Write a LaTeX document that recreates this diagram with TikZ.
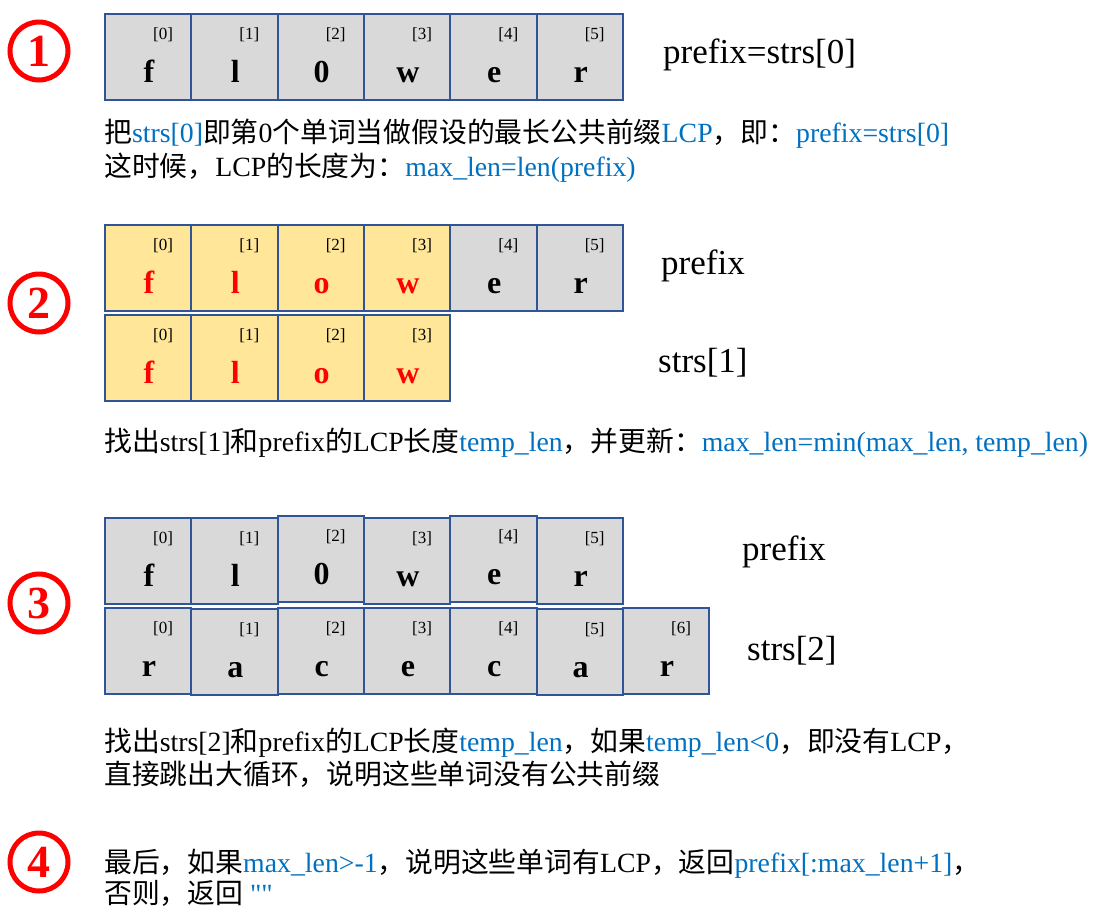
\documentclass[tikz,border=0pt]{standalone}
\usepackage{fontspec}
\setmainfont{Liberation Serif}
\newfontfamily\rawserif[Ligatures=ResetAll]{Liberation Serif}
\newfontfamily\cjk{Noto Sans CJK SC}
\newcommand\zh[1]{{\cjk #1}}
\definecolor{blu}{HTML}{0070C0}
\definecolor{bord}{HTML}{2F5597}
\definecolor{gry}{HTML}{D9D9D9}
\definecolor{yel}{HTML}{FFE699}
\newcommand\bl[1]{\textcolor{blu}{#1}}
\tikzset{
 cellbox/.style={draw=bord, line width=2pt, minimum width=86.33pt, minimum height=86pt, inner sep=0pt, anchor=north west},
 idxlab/.style={font=\fontsize{17}{19}\selectfont, inner sep=0pt},
 letlab/.style={font=\fontsize{32}{36}\selectfont\bfseries, inner sep=0pt, anchor=base},
 numcirc/.style={circle, draw=red, line width=5pt, minimum size=58pt, inner sep=0pt, text=red, font=\fontsize{46}{50}\selectfont\bfseries},
 sidelab/.style={font=\fontsize{35}{40}\selectfont, anchor=west, inner sep=0pt},
 bodytext/.style={font=\fontsize{27.8}{30}\selectfont, anchor=base west, inner sep=0pt},
}
\newcommand\mkcell[7]{%
 \node[cellbox, fill=#4] (#1) at (#2,#3) {};
 \node[idxlab] (#1i) at (#2+59,#3+22) {[#7]};
 \node[letlab, text=#5] (#1l) at (#2+45,#3+69) {#6};
}
\begin{document}
\begin{tikzpicture}[x=1pt,y=-1pt]
\useasboundingbox (0,0) rectangle (1095,919);
% ---- section 1
\node[numcirc] (n1) at (39,51) {1};
\mkcell{a0}{104}{13}{gry}{black}{f}{0}
\mkcell{a1}{190.33}{13}{gry}{black}{l}{1}
\mkcell{a2}{276.67}{13}{gry}{black}{0}{2}
\mkcell{a3}{363}{13}{gry}{black}{w}{3}
\mkcell{a4}{449.33}{13}{gry}{black}{e}{4}
\mkcell{a5}{535.67}{13}{gry}{black}{r}{5}
\node[sidelab] (s1) at (663,55) {prefix=strs[0]};
\node[bodytext] (t1a) at (104,142) {\zh{把}\bl{strs[0]}\zh{即第}0\zh{个单词当做假设的最长公共前缀}\bl{LCP}\zh{，即：}\bl{prefix=strs[0]}};
\node[bodytext] (t1b) at (104,176) {\zh{这时候，}LCP\zh{的长度为：}\bl{max\_len=len(prefix)}};
% ---- section 2
\node[numcirc] (n2) at (39,303) {2};
\mkcell{b0}{104}{224}{yel}{red}{f}{0}
\mkcell{b1}{190.33}{224}{yel}{red}{l}{1}
\mkcell{b2}{276.67}{224}{yel}{red}{o}{2}
\mkcell{b3}{363}{224}{yel}{red}{w}{3}
\mkcell{b4}{449.33}{224}{gry}{black}{e}{4}
\mkcell{b5}{535.67}{224}{gry}{black}{r}{5}
\mkcell{c0}{104}{314}{yel}{red}{f}{0}
\mkcell{c1}{190.33}{314}{yel}{red}{l}{1}
\mkcell{c2}{276.67}{314}{yel}{red}{o}{2}
\mkcell{c3}{363}{314}{yel}{red}{w}{3}
\node[sidelab] (s2) at (661,266) {prefix};
\node[sidelab] (s3) at (658,363) {strs[1]};
\node[bodytext] (t2a) at (104,451) {\zh{找出}strs[1]\zh{和}prefix\zh{的}LCP\zh{长度}\bl{temp\_len}\zh{，并更新：}\bl{max\_len=min(max\_len, temp\_len)}};
% ---- section 3
\node[numcirc] (n3) at (39,603) {3};
\mkcell{d0}{104}{517}{gry}{black}{f}{0}
\mkcell{d1}{190.33}{517}{gry}{black}{l}{1}
\mkcell{d2}{276.67}{515}{gry}{black}{0}{2}
\mkcell{d3}{363}{517}{gry}{black}{w}{3}
\mkcell{d4}{449.33}{515}{gry}{black}{e}{4}
\mkcell{d5}{535.67}{517}{gry}{black}{r}{5}
\mkcell{e0}{104}{607}{gry}{black}{r}{0}
\mkcell{e1}{190.33}{608}{gry}{black}{a}{1}
\mkcell{e2}{276.67}{607}{gry}{black}{c}{2}
\mkcell{e3}{363}{607}{gry}{black}{e}{3}
\mkcell{e4}{449.33}{607}{gry}{black}{c}{4}
\mkcell{e5}{535.67}{608}{gry}{black}{a}{5}
\mkcell{e6}{622}{607}{gry}{black}{r}{6}
\node[sidelab] (s4) at (742,552) {prefix};
\node[sidelab] (s5) at (747,651) {strs[2]};
\node[bodytext] (t3a) at (104,751) {\zh{找出}strs[2]\zh{和}prefix\zh{的}LCP\zh{长度}\bl{temp\_len}\zh{，如果}\bl{temp\_len<0}\zh{，即没有}LCP\zh{，}};
\node[bodytext] (t3b) at (104,784) {\zh{直接跳出大循环，说明这些单词没有公共前缀}};
% ---- section 4
\node[numcirc] (n4) at (39,862) {4};
\node[bodytext] (t4a) at (104,872) {\zh{最后，如果}\bl{max\_len>-1}\zh{，说明这些单词有}LCP\zh{，返回}\bl{prefix[:max\_len+1]}\zh{，}};
\node[bodytext] (t4b) at (104,903) {\zh{否则，返回} \bl{\rawserif ""}};
\end{tikzpicture}
\end{document}
